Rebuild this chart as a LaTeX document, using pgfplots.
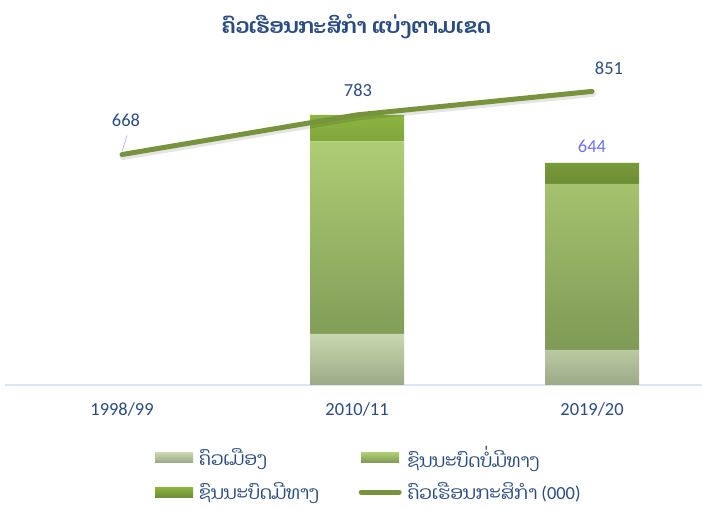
\documentclass[border=0pt]{standalone}
\usepackage{pgfplots}
\pgfplotsset{compat=1.18}
\usepackage{fontspec}
\setmainfont{Carlito}
\newfontfamily\laofont[Script=Lao]{Dhyana}
\definecolor{txt}{HTML}{2A4C80}
\definecolor{lbl}{HTML}{6E6EEE}
\definecolor{linec}{HTML}{77933C}
\definecolor{axisc}{HTML}{DCE6F2}
\definecolor{urbT}{HTML}{C9D8AF}
\definecolor{urbB}{HTML}{9BA988}
\definecolor{midT}{HTML}{AFCC75}
\definecolor{midB}{HTML}{7E9A55}
\definecolor{topT}{HTML}{8CB540}
\definecolor{topB}{HTML}{6E8D35}
\pgfplotsset{
  barleg/.style={legend image code/.code={\path[##1] (0bp,-5bp) rectangle (38bp,5bp);}},
  lineleg/.style={legend image code/.code={\draw[##1] (0bp,0bp) -- (38bp,0bp);}},
}
\begin{document}
\begin{tikzpicture}
\path[use as bounding box] (0,0) rectangle (702bp,510bp);
\begin{axis}[
  at={(4.5bp,125bp)}, anchor=south west,
  scale only axis, width=705bp, height=310.5bp,
  xmin=-0.5, xmax=2.5, ymin=0, ymax=900,
  ybar stacked, bar width=94bp,
  xtick={0,1,2}, xticklabels={1998/99,2010/11,2019/20},
  axis x line=bottom, axis y line=none,
  x axis line style={draw=axisc, line width=1.5bp, -},
  major tick length=0pt,
  xticklabel style={text=txt, font=\fontsize{18.5}{22}\selectfont, yshift=-14bp},
  title={\laofont\bfseries ຄົວເຮືອນກະສິກຳ ແບ່ງຕາມເຂດ},
  title style={at={(rel axis cs:0.499,1.135)}, anchor=center, text=txt, font=\fontsize{21}{24}\selectfont},
]
\addplot[draw=none, top color=urbT, bottom color=urbB] coordinates {(1,148) (2,102)};
\addplot[draw=none, top color=midT, bottom color=midB] coordinates {(1,558) (2,481)};
\addplot[draw=none, top color=topT, bottom color=topB] coordinates {(1,77) (2,61)};
\end{axis}
\begin{axis}[
  at={(4.5bp,125bp)}, anchor=south west,
  scale only axis, width=705bp, height=310.5bp,
  xmin=-0.5, xmax=2.5, ymin=0, ymax=900,
  hide axis, clip=false,
  legend columns=2,
  legend cell align=left,
  legend style={at={(rel axis cs:0.2135,-0.19)}, anchor=north west, draw=none, fill=none,
    inner sep=0pt, row sep=10bp, text=txt, font=\fontsize{18.5}{21}\selectfont,
    /tikz/every odd column/.append style={column sep=4bp},
    /tikz/every even column/.append style={column sep=38bp}},
]
\addlegendimage{draw=none, top color=urbT, bottom color=urbB, barleg}
\addlegendentry{\laofont ຄົວເມືອງ}
\addlegendimage{draw=none, top color=midT, bottom color=midB, barleg}
\addlegendentry{\laofont ຊົນນະບົດບໍ່ມີທາງ}
\addlegendimage{draw=none, top color=topT, bottom color=topB, barleg}
\addlegendentry{\laofont ຊົນນະບົດມີທາງ}
\addplot[forget plot, draw=none, mark=none, nodes near coords, point meta=explicit symbolic,
  every node near coord/.append style={anchor=center, yshift=16bp, text=lbl, font=\fontsize{18.5}{22}\selectfont}]
  coordinates {(2,644) [644]};
\addplot[forget plot, black, opacity=0.10, line width=6bp, line cap=round, yshift=-2.5bp, xshift=1bp]
  table[x=x, y=y] {
x y
0 668
1 783
2 851
};
\addplot[linec, line width=5bp, line cap=round, line join=round, lineleg,
  nodes near coords, point meta=explicit symbolic,
  visualization depends on={\thisrow{dx} \as \dx},
  visualization depends on={\thisrow{dy} \as \dy},
  every node near coord/.append style={anchor=center, xshift=\dx*1bp, yshift=\dy*1bp, text=txt, font=\fontsize{18.5}{22}\selectfont},
] table[x=x, y=y, meta=y] {
x y dx dy
0 668 4 34
1 783 1 25
2 851 17 23
};
\addlegendentry{{\laofont ຄົວເຮືອນກະສິກຳ} (000)}
\draw[blue!35, line width=0.6bp] ([yshift=3bp]axis cs:0,668) -- ([xshift=5bp,yshift=19bp]axis cs:0,668);
\end{axis}
\end{tikzpicture}
\end{document}
